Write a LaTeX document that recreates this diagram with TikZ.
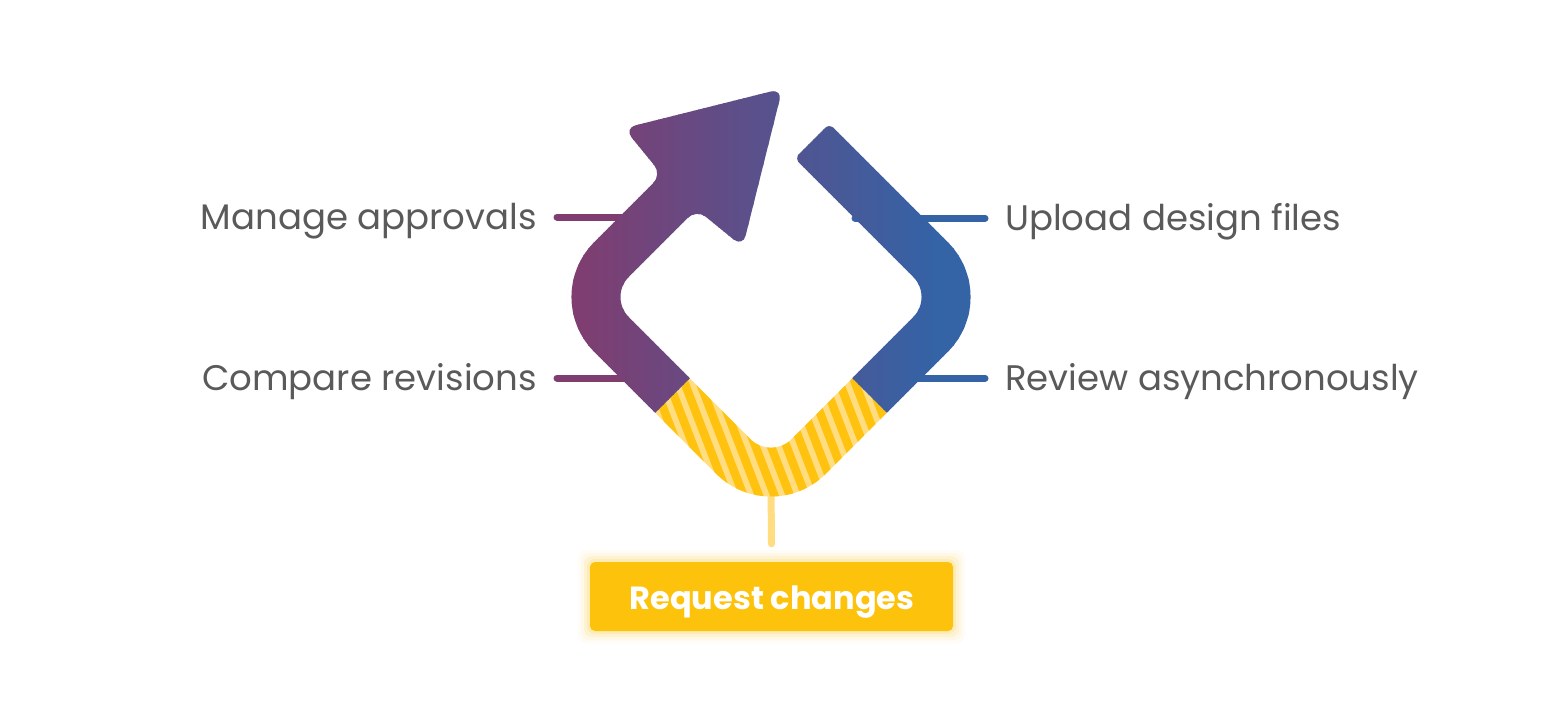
\documentclass[tikz,border=0pt]{standalone}
\usepackage{fontspec}
\setmainfont{Poppins}
\definecolor{purp}{RGB}{128,61,112}
\definecolor{blu}{RGB}{52,99,166}
\definecolor{ylight}{RGB}{255,221,128}
\definecolor{ydark}{RGB}{255,194,14}
\definecolor{boxy}{RGB}{253,195,12}
\definecolor{txt}{RGB}{90,90,90}
\tikzset{
  lbl/.style={font=\fontsize{35.5}{40}\selectfont, text=txt, inner sep=0pt},
  conP/.style={draw=purp, line width=7pt, line cap=round},
  conB/.style={draw=blu, line width=7pt, line cap=round},
  conY/.style={draw=ylight, line width=7pt, line cap=round},
  band/.style={line width=49pt, rounded corners=53pt},
  boxnode/.style={fill=boxy, rounded corners=5pt, minimum width=363pt, minimum height=69pt, inner sep=0pt},
  boxtext/.style={text=white, font=\bfseries\fontsize{32}{36}\selectfont, inner sep=0pt},
}
\begin{document}
\begin{tikzpicture}[x=1pt,y=-1pt]
\useasboundingbox (0,0) rectangle (1560,720);
\fill[white] (0,0) rectangle (1560,720);
\coordinate (C) at (771,297);

% box with glow
\foreach \g/\o in {12/0.04, 9/0.06, 6/0.09, 3/0.14}{
  \fill[boxy, opacity=\o, rounded corners=8pt] (590-\g,562-\g) rectangle (953+\g,631+\g);
}
\node[boxnode] (req) at (771.5,596.5) {};
\node[boxtext, anchor=base] (reqtxt) at (772,609) {Request changes};
\coordinate (ytop) at (771,485);
\draw[conY] (ytop) -- ([yshift=18pt]req.north);

% hatched yellow section
\begin{scope}
  \clip (771,297) -- (471,597) -- (1071,597) -- cycle;
  \clip[rounded corners=77.5pt] (539.4,297) -- (771,528.6) -- (1002.6,297) -- (771,65.4) -- cycle;
  \fill[ylight] (450,280) rectangle (1100,620);
  \foreach \k in {-30,...,30}{
    \fill[ydark] ({771+15.5*\k-115.5},-3) -- ++(9,0) -- ++(231,600) -- ++(-9,0) -- cycle;
  }
\end{scope}
\fill[white, rounded corners=28.5pt] (608.6,297) -- (771,459.4) -- (933.4,297) -- (771,134.6) -- cycle;

% labels
\node[lbl, anchor=base east] (manage) at (537,229) {Manage approvals};
\node[lbl, anchor=base east] (compare) at (537,390) {Compare revisions};
\node[lbl, anchor=base west] (upload) at (1005,230) {Upload design files};
\node[lbl, anchor=base west] (review) at (1005,390) {Review asynchronously};

% connector end points hidden behind the band
\coordinate (mB) at (630,217);
\coordinate (cB) at (640,378);
\coordinate (uB) at (855,218);
\coordinate (rB) at (905,378);
\draw[conP] ([xshift=20pt,yshift=12pt]manage.base east) -- (mB);
\draw[conP] ([xshift=20pt,yshift=12pt]compare.base east) -- (cB);
\draw[conB] ([xshift=-20pt,yshift=12pt]upload.base west) -- (uB);
\draw[conB] ([xshift=-20pt,yshift=12pt]review.base west) -- (rB);

% gradient bands in vertical strips
\foreach \i in {0,...,84}{
  \pgfmathsetmacro{\xa}{558+5*\i}
  \pgfmathsetmacro{\pc}{max(0,min(100,(\xa+2.5-575)/3.6))}
  \colorlet{cc}{blu!\pc!purp}
  \begin{scope}
    \clip (\xa,0) rectangle (\xa+6,720);
    \draw[band, cc] (672.5,395.5) -- (574,297) -- (674.9,196.1);
    \fill[cc, rounded corners=12pt] (647.0,189.4) -- (661.8,174.5) -- (624.0,128.2) -- (782.4,88.6) -- (742.8,247) -- (696.5,209.2) -- (681.6,224.0) -- cycle;
    \draw[band, cc] (869.5,395.5) -- (968,297) -- (822.6,151.6);
    \fill[cc, rounded corners=6pt] (843.4,137.8) -- (829.3,123.7) -- (794.7,158.3) -- (808.8,172.4) -- cycle;
  \end{scope}
}
\end{tikzpicture}
\end{document}
